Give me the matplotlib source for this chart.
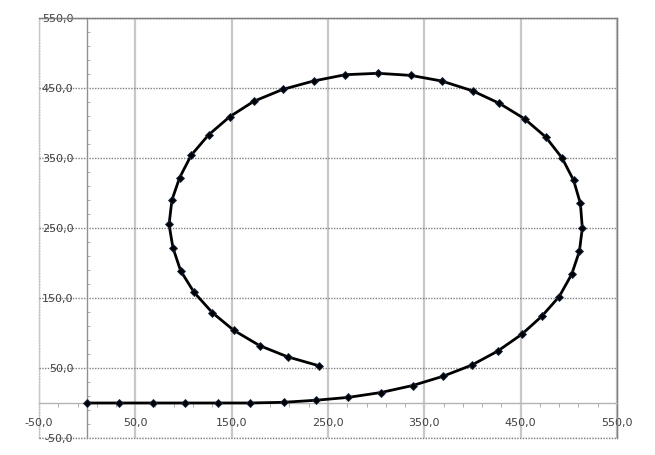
import matplotlib
matplotlib.use("Agg")
from matplotlib import pyplot as plt
from matplotlib.ticker import MultipleLocator, FuncFormatter
from matplotlib.patches import Rectangle

# points (x, y)
xs = [0, 33, 68, 102, 136, 169, 204, 238,
      271, 305, 338, 369, 399, 426, 451, 472,
      490, 503, 511, 514, 512, 505, 493, 476,
      454, 428, 400, 368, 336, 302, 268, 235,
      203, 173, 148, 126, 108, 96, 88, 85,
      89, 97, 111, 130, 152, 179, 208, 241]
ys = [0, 0, 0, 0, 0, 0, 1, 4,
      8, 15, 25, 38, 54, 74, 98, 124,
      152, 184, 217, 250, 285, 318, 350, 380,
      406, 428, 446, 460, 468, 471, 469, 460,
      448, 431, 409, 383, 354, 322, 290, 255,
      222, 189, 158, 129, 104, 82, 66, 53]

x_min, x_max = -50, 550
y_min, y_max = -50, 550

fig = plt.figure(figsize=(6.55, 4.55), dpi=100)
ax = fig.add_axes([39 / 655, 1 - 438 / 455, 578 / 655, 420 / 455])

ax.set_xlim(x_min, x_max)
ax.set_ylim(y_min, y_max)

ax.xaxis.set_major_locator(MultipleLocator(100, offset=50))
ax.yaxis.set_major_locator(MultipleLocator(100, offset=50))
ax.xaxis.set_minor_locator(MultipleLocator(20, offset=10))
ax.yaxis.set_minor_locator(MultipleLocator(20, offset=10))

fmt = FuncFormatter(lambda v, p: f"{v:.1f}".replace(".", ","))
ax.xaxis.set_major_formatter(fmt)
ax.yaxis.set_major_formatter(fmt)

# gridlines: light solid verticals, dotted horizontals
ax.grid(axis="x", which="major", color="#c8c8c8", linewidth=1.6, linestyle="-")
ax.grid(axis="y", which="major", color="#808080", linewidth=1.0, linestyle=(0, (1, 1)))
ax.set_axisbelow(True)

# axes cross at zero like the excel chart
ax.spines["bottom"].set_position(("data", 0))
ax.spines["left"].set_position(("data", 0))
ax.spines["bottom"].set_color("#b4b4b4")
ax.spines["bottom"].set_linewidth(1.0)
ax.spines["left"].set_color("#909090")
ax.spines["left"].set_linestyle((0, (1, 1)))
ax.spines["left"].set_linewidth(1.0)
for s in ["top", "right"]:
    ax.spines[s].set_color("#808080")
    ax.spines[s].set_linestyle((0, (1, 1)))
    ax.spines[s].set_linewidth(1.0)

# plot area border (dotted)
ax.add_patch(Rectangle((0, 0), 1, 1, transform=ax.transAxes, fill=False,
                       edgecolor="#808080", linewidth=1.0, linestyle=(0, (1, 1)),
                       clip_on=False, zorder=0.5))

ax.tick_params(which="both", color="#a0a0a0", labelsize=8, labelcolor="#404040")
ax.tick_params(which="major", length=0)
ax.tick_params(axis="x", which="major", pad=11)
ax.tick_params(axis="y", which="major", pad=10)
ax.tick_params(axis="x", which="minor", direction="out", length=3)
ax.tick_params(axis="y", which="minor", direction="in", length=2)

ax.plot(xs, ys, color="black", linewidth=2.0, marker="D", markersize=4.5,
        markerfacecolor="black", markeredgecolor="#1a2a4a", markeredgewidth=0.6,
        zorder=3, clip_on=False)

fig.savefig("out.png", dpi=100)
